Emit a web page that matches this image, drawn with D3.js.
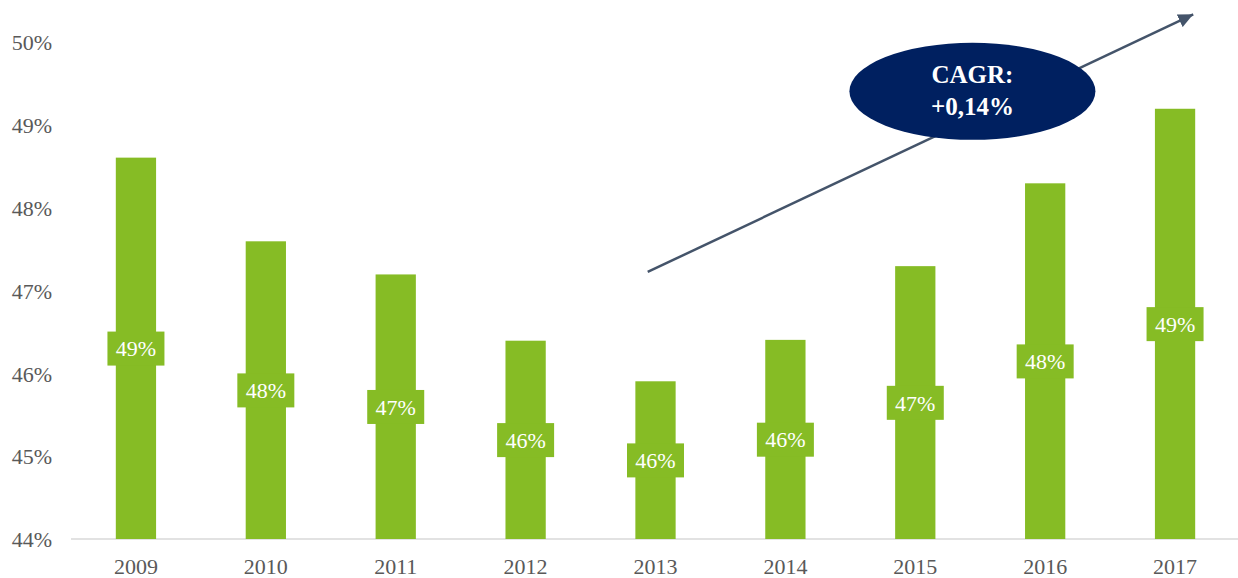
<!DOCTYPE html>
<html>
<head>
<meta charset="utf-8">
<script src="https://cdn.jsdelivr.net/npm/d3@7"></script>
<style>
  html, body { margin: 0; padding: 0; background: #fff; }
  svg { display: block; }
</style>
</head>
<body>
<svg id="chart" width="1238" height="578"></svg>
<script>
// ---- Data ----
const years = ["2009", "2010", "2011", "2012", "2013", "2014", "2015", "2016", "2017"];
const values = [48.61, 47.60, 47.20, 46.40, 45.91, 46.41, 47.30, 48.30, 49.20];
const yTicks = [44, 45, 46, 47, 48, 49, 50];
const cagrLines = ["CAGR:", "+0,14%"];
// trend arrow in data space: [category index (fractional), value]
const arrowStart = [3.94, 47.23];
const arrowEnd = [8.14, 50.34];
const bubbleCenter = [6.44, 49.41];

(function () {
// ---- Layout ----
const svg = d3.select("#chart");
const plotLeft = 71, plotRight = 1240, plotTop = 42.5, plotBottom = 539.5;
const green = "#86BC25";
const font = "'Liberation Serif', 'Times New Roman', serif";

const x = d3.scaleBand().domain(years).range([plotLeft, plotRight]).paddingInner(0.69).paddingOuter(0.345);
const y = d3.scaleLinear().domain([44, 50]).range([plotBottom, plotTop]);
const xIdx = i => x(years[0]) + x.bandwidth() / 2 + i * x.step();

// Y tick labels
svg.append("g").selectAll("text").data(yTicks).join("text")
  .attr("x", 52).attr("y", d => y(d)).attr("dy", "0.35em")
  .attr("text-anchor", "end")
  .attr("font-family", font).attr("font-size", 22).attr("fill", "#595959")
  .text(d => d + "%");

// X axis line
svg.append("line")
  .attr("x1", plotLeft).attr("x2", 1238).attr("y1", plotBottom - 0.5).attr("y2", plotBottom - 0.5)
  .attr("stroke", "#D9D9D9").attr("stroke-width", 1.5);

// X labels
svg.append("g").selectAll("text").data(years).join("text")
  .attr("x", d => x(d) + x.bandwidth() / 2).attr("y", 574)
  .attr("text-anchor", "middle")
  .attr("font-family", font).attr("font-size", 22).attr("fill", "#595959")
  .text(d => d);

// Bars
const data = years.map((yr, i) => ({ yr, v: values[i] }));
svg.append("g").selectAll("rect").data(data).join("rect")
  .attr("x", d => x(d.yr)).attr("width", x.bandwidth())
  .attr("y", d => y(d.v)).attr("height", d => y(44) - y(d.v) - 0.5)
  .attr("fill", green);

// Data labels
const lbl = svg.append("g").selectAll("g").data(data).join("g")
  .attr("transform", d => `translate(${x(d.yr) + x.bandwidth() / 2},${(y(d.v) + y(44)) / 2})`);
lbl.append("rect").attr("x", -28.5).attr("y", -17).attr("width", 57).attr("height", 34).attr("fill", green);
lbl.append("text").attr("text-anchor", "middle").attr("dy", "0.35em")
  .attr("font-family", font).attr("font-size", 22).attr("fill", "#fff")
  .text(d => Math.round(d.v) + "%");

// Arrow
svg.append("defs").append("marker")
  .attr("id", "ah").attr("viewBox", "0 -7 15 14").attr("refX", 15).attr("refY", 0)
  .attr("markerWidth", 15).attr("markerHeight", 14).attr("markerUnits", "userSpaceOnUse")
  .attr("orient", "auto")
  .append("path").attr("d", "M0,-7L15,0L0,7Z").attr("fill", "#44546A");

svg.append("line")
  .attr("x1", xIdx(arrowStart[0])).attr("y1", y(arrowStart[1]))
  .attr("x2", xIdx(arrowEnd[0])).attr("y2", y(arrowEnd[1]))
  .attr("stroke", "#44546A").attr("stroke-width", 2.5)
  .attr("marker-end", "url(#ah)");

// CAGR bubble
const cx = xIdx(bubbleCenter[0]), cy = y(bubbleCenter[1]);
svg.append("ellipse").attr("cx", cx).attr("cy", cy).attr("rx", 123).attr("ry", 48.5).attr("fill", "#002060");
svg.append("g").selectAll("text").data(cagrLines).join("text")
  .attr("x", cx).attr("y", (d, i) => cy - 8.5 + i * 32)
  .attr("text-anchor", "middle")
  .attr("font-family", font).attr("font-size", 25).attr("font-weight", "bold").attr("fill", "#fff")
  .text(d => d);
})();
</script>
</body>
</html>
